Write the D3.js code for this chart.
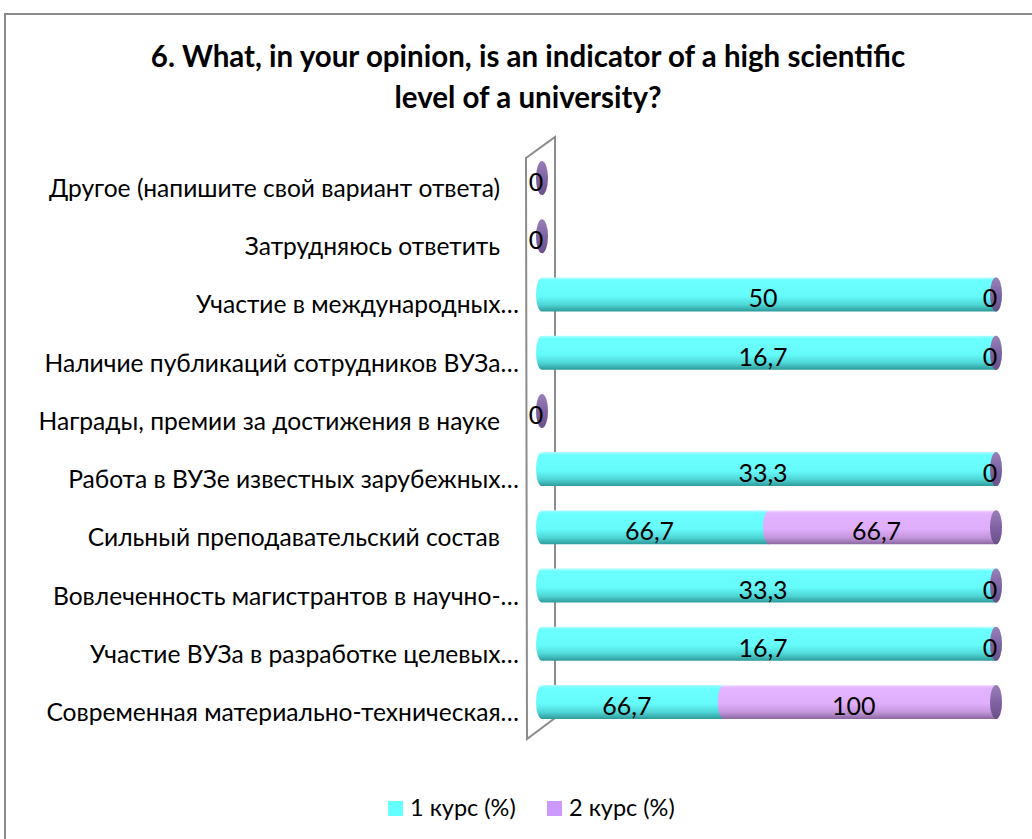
<!DOCTYPE html>
<html><head><meta charset="utf-8">
<script src="https://cdn.jsdelivr.net/npm/d3@7"></script>
<style>body{margin:0;background:#fff;}svg{display:block;}</style>
</head><body>
<svg id="chart" width="1032" height="839"></svg>
<script>
const categories = [
  "Другое (напишите свой вариант ответа)",
  "Затрудняюсь ответить",
  "Участие в международных…",
  "Наличие публикаций сотрудников ВУЗа…",
  "Награды, премии за достижения в науке",
  "Работа в ВУЗе известных зарубежных…",
  "Сильный преподавательский состав",
  "Вовлеченность магистрантов в научно-…",
  "Участие ВУЗа в разработке целевых…",
  "Современная материально-техническая…"
];
const seriesNames = ["1 курс (%)", "2 курс (%)"];
const course1 = [0, 0, 50, 16.7, 0, 33.3, 66.7, 33.3, 16.7, 66.7];
const course2 = [0, 0, 0, 0, 0, 0, 66.7, 0, 0, 100];
const titleLines = ["6. What, in your opinion, is an indicator of a high scientific", "level of a university?"];

const svg = d3.select("#chart");
const FONT = "Lato, 'Open Sans', sans-serif";

// frame
svg.append("rect").attr("x",5).attr("y",14).attr("width",1100).attr("height",900)
  .attr("fill","#fff").attr("stroke","#8a8a8a").attr("stroke-width",2);

// title
svg.append("g").selectAll("text").data(titleLines).join("text")
  .attr("x",528).attr("y",(d,i)=>67+i*41).attr("text-anchor","middle")
  .attr("font-family",FONT).attr("font-weight","bold").attr("font-size",29.5)
  .attr("fill","#000").text(d=>d);

const rows = categories.map((c,i)=>({cat:c, s0:course1[i], s1:course2[i]}));
const stack = d3.stack().keys(["s0","s1"]).offset(d3.stackOffsetExpand);
const stacked = stack(rows);

const y = d3.scaleBand().domain(categories).range([148.9, 731.1]).padding(0);
const x = d3.scaleLinear().domain([0,1]).range([542, 996]);
const yc = c => y(c) + y.bandwidth()/2;
const RX = 6, RY = 17;

// defs
const defs = svg.append("defs");
function grad(id, stops){
  const g = defs.append("linearGradient").attr("id",id).attr("x1",0).attr("y1",0).attr("x2",0).attr("y2",1);
  stops.forEach(s=>g.append("stop").attr("offset",s[0]).attr("stop-color",s[1]));
}
grad("g0", [[0,"#b8ffff"],[0.08,"#6cffff"],[0.55,"#66fbfb"],[0.8,"#4fd6d6"],[1,"#2e9a9a"]]);
grad("g1", [[0,"#f4e4ff"],[0.08,"#e3b4ff"],[0.55,"#dfaefc"],[0.8,"#c496dc"],[1,"#8a68a0"]]);
grad("gc", [[0,"#9a80b8"],[0.5,"#8064a2"],[1,"#6a5088"]]);

// side wall
const wall = [[527,739],[526,158],[555,137],[555,718]];
svg.append("path").attr("d", d3.line()(wall)+"Z")
  .attr("fill","#fff").attr("stroke","#8c8c8c").attr("stroke-width",2);

// bars
const barG = svg.append("g");
stacked.forEach((ser, si) => {
  ser.forEach((seg, ri) => {
    const c = categories[ri];
    const cy = yc(c);
    const x0 = x(seg[0]), x1 = x(seg[1]);
    const top = cy-RY, bot = cy+RY;
    if (x1 - x0 > 0.5) {
      const p = `M${x0},${top} L${x1},${top} A${RX},${RY} 0 0 1 ${x1},${bot} L${x0},${bot} A${RX},${RY} 0 0 1 ${x0},${top} Z`;
      barG.append("path").attr("d",p).attr("fill",`url(#g${si})`);
    }
    if (si === 1) {
      barG.append("ellipse").attr("cx",x1).attr("cy",cy).attr("rx",RX).attr("ry",RY)
        .attr("fill","url(#gc)");
    }
  });
});

// data labels
const labG = svg.append("g");
stacked.forEach((ser, si) => {
  ser.forEach((seg, ri) => {
    const v = ser.key === "s0" ? course1[ri] : course2[ri];
    if (si === 0 && v === 0) return;
    const cx = (x(seg[0]) + x(seg[1]))/2 - 6;
    labG.append("text").attr("x",cx).attr("y",yc(categories[ri])+3)
      .attr("text-anchor","middle").attr("dominant-baseline","central")
      .attr("font-family",FONT).attr("font-size",25).attr("fill","#000")
      .text(String(v).replace(".",","));
  });
});

// category labels
svg.append("g").selectAll("text").data(categories).join("text")
  .attr("x", d => d.endsWith("…") ? 519 : 500)
  .attr("y", d => yc(d) + 19)
  .attr("text-anchor","end")
  .attr("font-family",FONT).attr("font-size",24.6).attr("fill","#000")
  .text(d=>d);

// legend
const legColors = ["#66ffff","#cc99ff"];
const legX = [388, 547];
const lg = svg.append("g");
seriesNames.forEach((n,i)=>{
  lg.append("rect").attr("x",legX[i]).attr("y",801).attr("width",15).attr("height",15).attr("fill",legColors[i]);
  lg.append("text").attr("x",legX[i]+22).attr("y",816).attr("font-family",FONT).attr("font-size",23.5)
    .attr("fill","#000").text(n);
});
</script>
</body></html>
